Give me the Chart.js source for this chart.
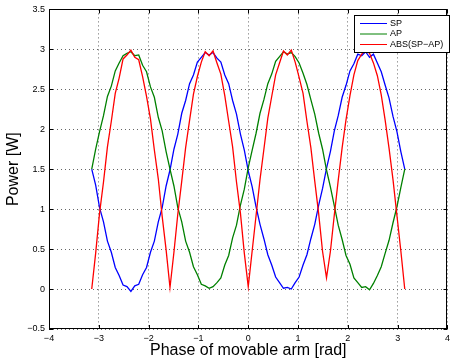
<!DOCTYPE html>
<html>
<head>
<meta charset="utf-8">
<script src="https://cdn.jsdelivr.net/npm/chart.js@4.4.0/dist/chart.umd.min.js"></script>
<style>
  html, body { margin: 0; padding: 0; background: #fff; }
  #wrap { width: 454px; height: 360px; }
</style>
</head>
<body>
<div id="wrap"><canvas id="chart" width="454" height="360"></canvas></div>
<script>
// phase of the movable arm [rad]
var phase = [-3.142, -3.063, -2.985, -2.906, -2.827, -2.749, -2.670, -2.592, -2.513, -2.435,
  -2.356, -2.278, -2.199, -2.121, -2.042, -1.963, -1.885, -1.806, -1.728, -1.649,
  -1.571, -1.492, -1.414, -1.335, -1.257, -1.178, -1.100, -1.021, -0.942, -0.864,
  -0.785, -0.707, -0.628, -0.550, -0.471, -0.393, -0.314, -0.236, -0.157, -0.079,
  0, 0.079, 0.157, 0.236, 0.314, 0.393, 0.471, 0.550, 0.628, 0.707,
  0.785, 0.864, 0.942, 1.021, 1.100, 1.178, 1.257, 1.335, 1.414, 1.492,
  1.571, 1.649, 1.728, 1.806, 1.885, 1.963, 2.042, 2.121, 2.199, 2.278,
  2.356, 2.435, 2.513, 2.592, 2.670, 2.749, 2.827, 2.906, 2.985, 3.063, 3.142];

var sp = [1.50, 1.30, 1.02, 0.84, 0.60, 0.46, 0.27, 0.17, 0.05, 0.03,
  -0.03, 0.04, 0.06, 0.18, 0.27, 0.46, 0.60, 0.84, 1.02, 1.29,
  1.49, 1.75, 1.94, 2.20, 2.36, 2.57, 2.68, 2.84, 2.90, 2.96,
  2.93, 2.96, 2.89, 2.84, 2.68, 2.57, 2.36, 2.19, 1.94, 1.74,
  1.48, 1.28, 1.03, 0.81, 0.63, 0.43, 0.30, 0.15, 0.08, 0.01,
  0.02, 0.00, 0.08, 0.15, 0.30, 0.43, 0.63, 0.81, 1.05, 1.26,
  1.51, 1.72, 1.98, 2.17, 2.40, 2.55, 2.73, 2.82, 2.94, 2.92,
  2.97, 2.90, 2.94, 2.83, 2.72, 2.55, 2.39, 2.16, 1.97, 1.72, 1.50];

var ap = [1.50, 1.75, 1.97, 2.17, 2.41, 2.54, 2.73, 2.83, 2.92, 2.95,
  2.97, 2.92, 2.93, 2.80, 2.72, 2.53, 2.40, 2.15, 1.98, 1.72,
  1.50, 1.29, 1.02, 0.84, 0.60, 0.46, 0.28, 0.18, 0.06, 0.04,
  0.01, 0.03, 0.08, 0.14, 0.30, 0.42, 0.64, 0.80, 1.05, 1.25,
  1.52, 1.74, 1.95, 2.20, 2.37, 2.57, 2.69, 2.85, 2.91, 2.97,
  2.94, 2.96, 2.91, 2.83, 2.70, 2.56, 2.37, 2.19, 1.95, 1.75,
  1.49, 1.28, 1.04, 0.80, 0.62, 0.42, 0.31, 0.14, 0.08, 0.02,
  0.03, -0.01, 0.07, 0.17, 0.28, 0.45, 0.61, 0.83, 1.03, 1.27, 1.50];

var absDiff = [0.00, 0.45, 0.95, 1.34, 1.78, 2.10, 2.45, 2.64, 2.88, 2.93,
  2.99, 2.90, 2.87, 2.66, 2.41, 2.13, 1.74, 1.38, 0.91, 0.49,
  0.02, 0.46, 0.94, 1.35, 1.77, 2.11, 2.44, 2.66, 2.84, 2.97,
  2.92, 2.98, 2.83, 2.69, 2.42, 2.10, 1.78, 1.34, 0.95, 0.45,
  0.03, 0.48, 0.92, 1.37, 1.75, 2.14, 2.41, 2.68, 2.83, 2.98,
  2.93, 2.99, 2.84, 2.65, 2.45, 2.10, 1.77, 1.35, 0.94, 0.47,
  0.14, 0.47, 0.93, 1.36, 1.77, 2.12, 2.42, 2.68, 2.86, 2.94,
  2.99, 2.95, 2.83, 2.67, 2.43, 2.11, 1.76, 1.37, 0.92, 0.48, 0.00];

var seriesNames = ['SP', 'AP', 'ABS(SP\u2212AP)'];
var seriesColors = ['#0000ff', '#008000', '#ff0000'];

function pts(vals) {
  return vals.map(function (v, i) { return { x: phase[i], y: v }; });
}
function fmt(v) {
  var s = String(Math.round(v * 10) / 10);
  return s.replace('-', '\u2212');
}

var FONT = '"Liberation Sans", Arial, sans-serif';

// box, inward ticks and legend, matlab style
var matlabBox = {
  id: 'matlabBox',
  afterDraw: function (chart) {
    var ctx = chart.ctx, a = chart.chartArea;
    var xs = chart.scales.x, ys = chart.scales.y;
    ctx.save();
    ctx.strokeStyle = '#000';
    ctx.lineWidth = 1;
    ctx.strokeRect(Math.round(a.left) + 0.5, Math.round(a.top) + 0.5,
      Math.round(a.right - a.left) - 1, Math.round(a.bottom - a.top) - 1);
    ctx.beginPath();
    xs.ticks.forEach(function (t) {
      var px = Math.round(xs.getPixelForValue(t.value)) + 0.5;
      ctx.moveTo(px, a.bottom); ctx.lineTo(px, a.bottom - 4);
      ctx.moveTo(px, a.top); ctx.lineTo(px, a.top + 4);
    });
    ys.ticks.forEach(function (t) {
      var py = Math.round(ys.getPixelForValue(t.value)) + 0.5;
      ctx.moveTo(a.left, py); ctx.lineTo(a.left + 4, py);
      ctx.moveTo(a.right, py); ctx.lineTo(a.right - 4, py);
    });
    ctx.stroke();

    // legend
    var lx = 354.5, ly = 15.5, lw = 95, lh = 37;
    ctx.fillStyle = '#fff';
    ctx.fillRect(lx, ly, lw, lh);
    ctx.strokeRect(lx, ly, lw, lh);
    ctx.font = '9px ' + FONT;
    ctx.textBaseline = 'middle';
    for (var i = 0; i < seriesNames.length; i++) {
      var yy = 23.5 + i * 10.5;
      ctx.strokeStyle = seriesColors[i];
      ctx.beginPath();
      ctx.moveTo(360, yy); ctx.lineTo(387, yy);
      ctx.stroke();
      ctx.fillStyle = '#000';
      ctx.fillText(seriesNames[i], 390, yy);
    }
    ctx.restore();
  }
};

new Chart(document.getElementById('chart'), {
  type: 'line',
  data: {
    datasets: [
      { label: seriesNames[0], data: pts(sp), borderColor: seriesColors[0], order: 3 },
      { label: seriesNames[1], data: pts(ap), borderColor: seriesColors[1], order: 2 },
      { label: seriesNames[2], data: pts(absDiff), borderColor: seriesColors[2], order: 1 }
    ]
  },
  options: {
    responsive: false,
    animation: false,
    layout: { padding: { top: 9, right: 1, left: 0, bottom: 0 } },
    elements: {
      line: { borderWidth: 1.3, tension: 0 },
      point: { radius: 0 }
    },
    plugins: { legend: { display: false }, tooltip: { enabled: false } },
    scales: {
      x: {
        type: 'linear', min: -4, max: 4,
        afterFit: function (s) { s.height = 31; },
        border: { display: false, dash: [1, 3] },
        grid: { color: '#666', drawTicks: false },
        ticks: { stepSize: 1, padding: 4, color: '#000', font: { family: FONT, size: 9 },
          callback: function (v) { return fmt(v); } },
        title: { display: true, text: 'Phase of movable arm [rad]', color: '#000',
          font: { family: FONT, size: 16 }, padding: { top: 0, bottom: 0 } }
      },
      y: {
        min: -0.5, max: 3.5,
        afterFit: function (s) { s.width = 49; },
        border: { display: false, dash: [1, 3] },
        grid: { color: '#666', drawTicks: false },
        ticks: { stepSize: 0.5, padding: 4, color: '#000', font: { family: FONT, size: 9 },
          callback: function (v) { return fmt(v); } },
        title: { display: true, text: 'Power [W]', color: '#000',
          font: { family: FONT, size: 16 }, padding: { top: 4, bottom: 0 } }
      }
    }
  },
  plugins: [matlabBox]
});
</script>
</body>
</html>
